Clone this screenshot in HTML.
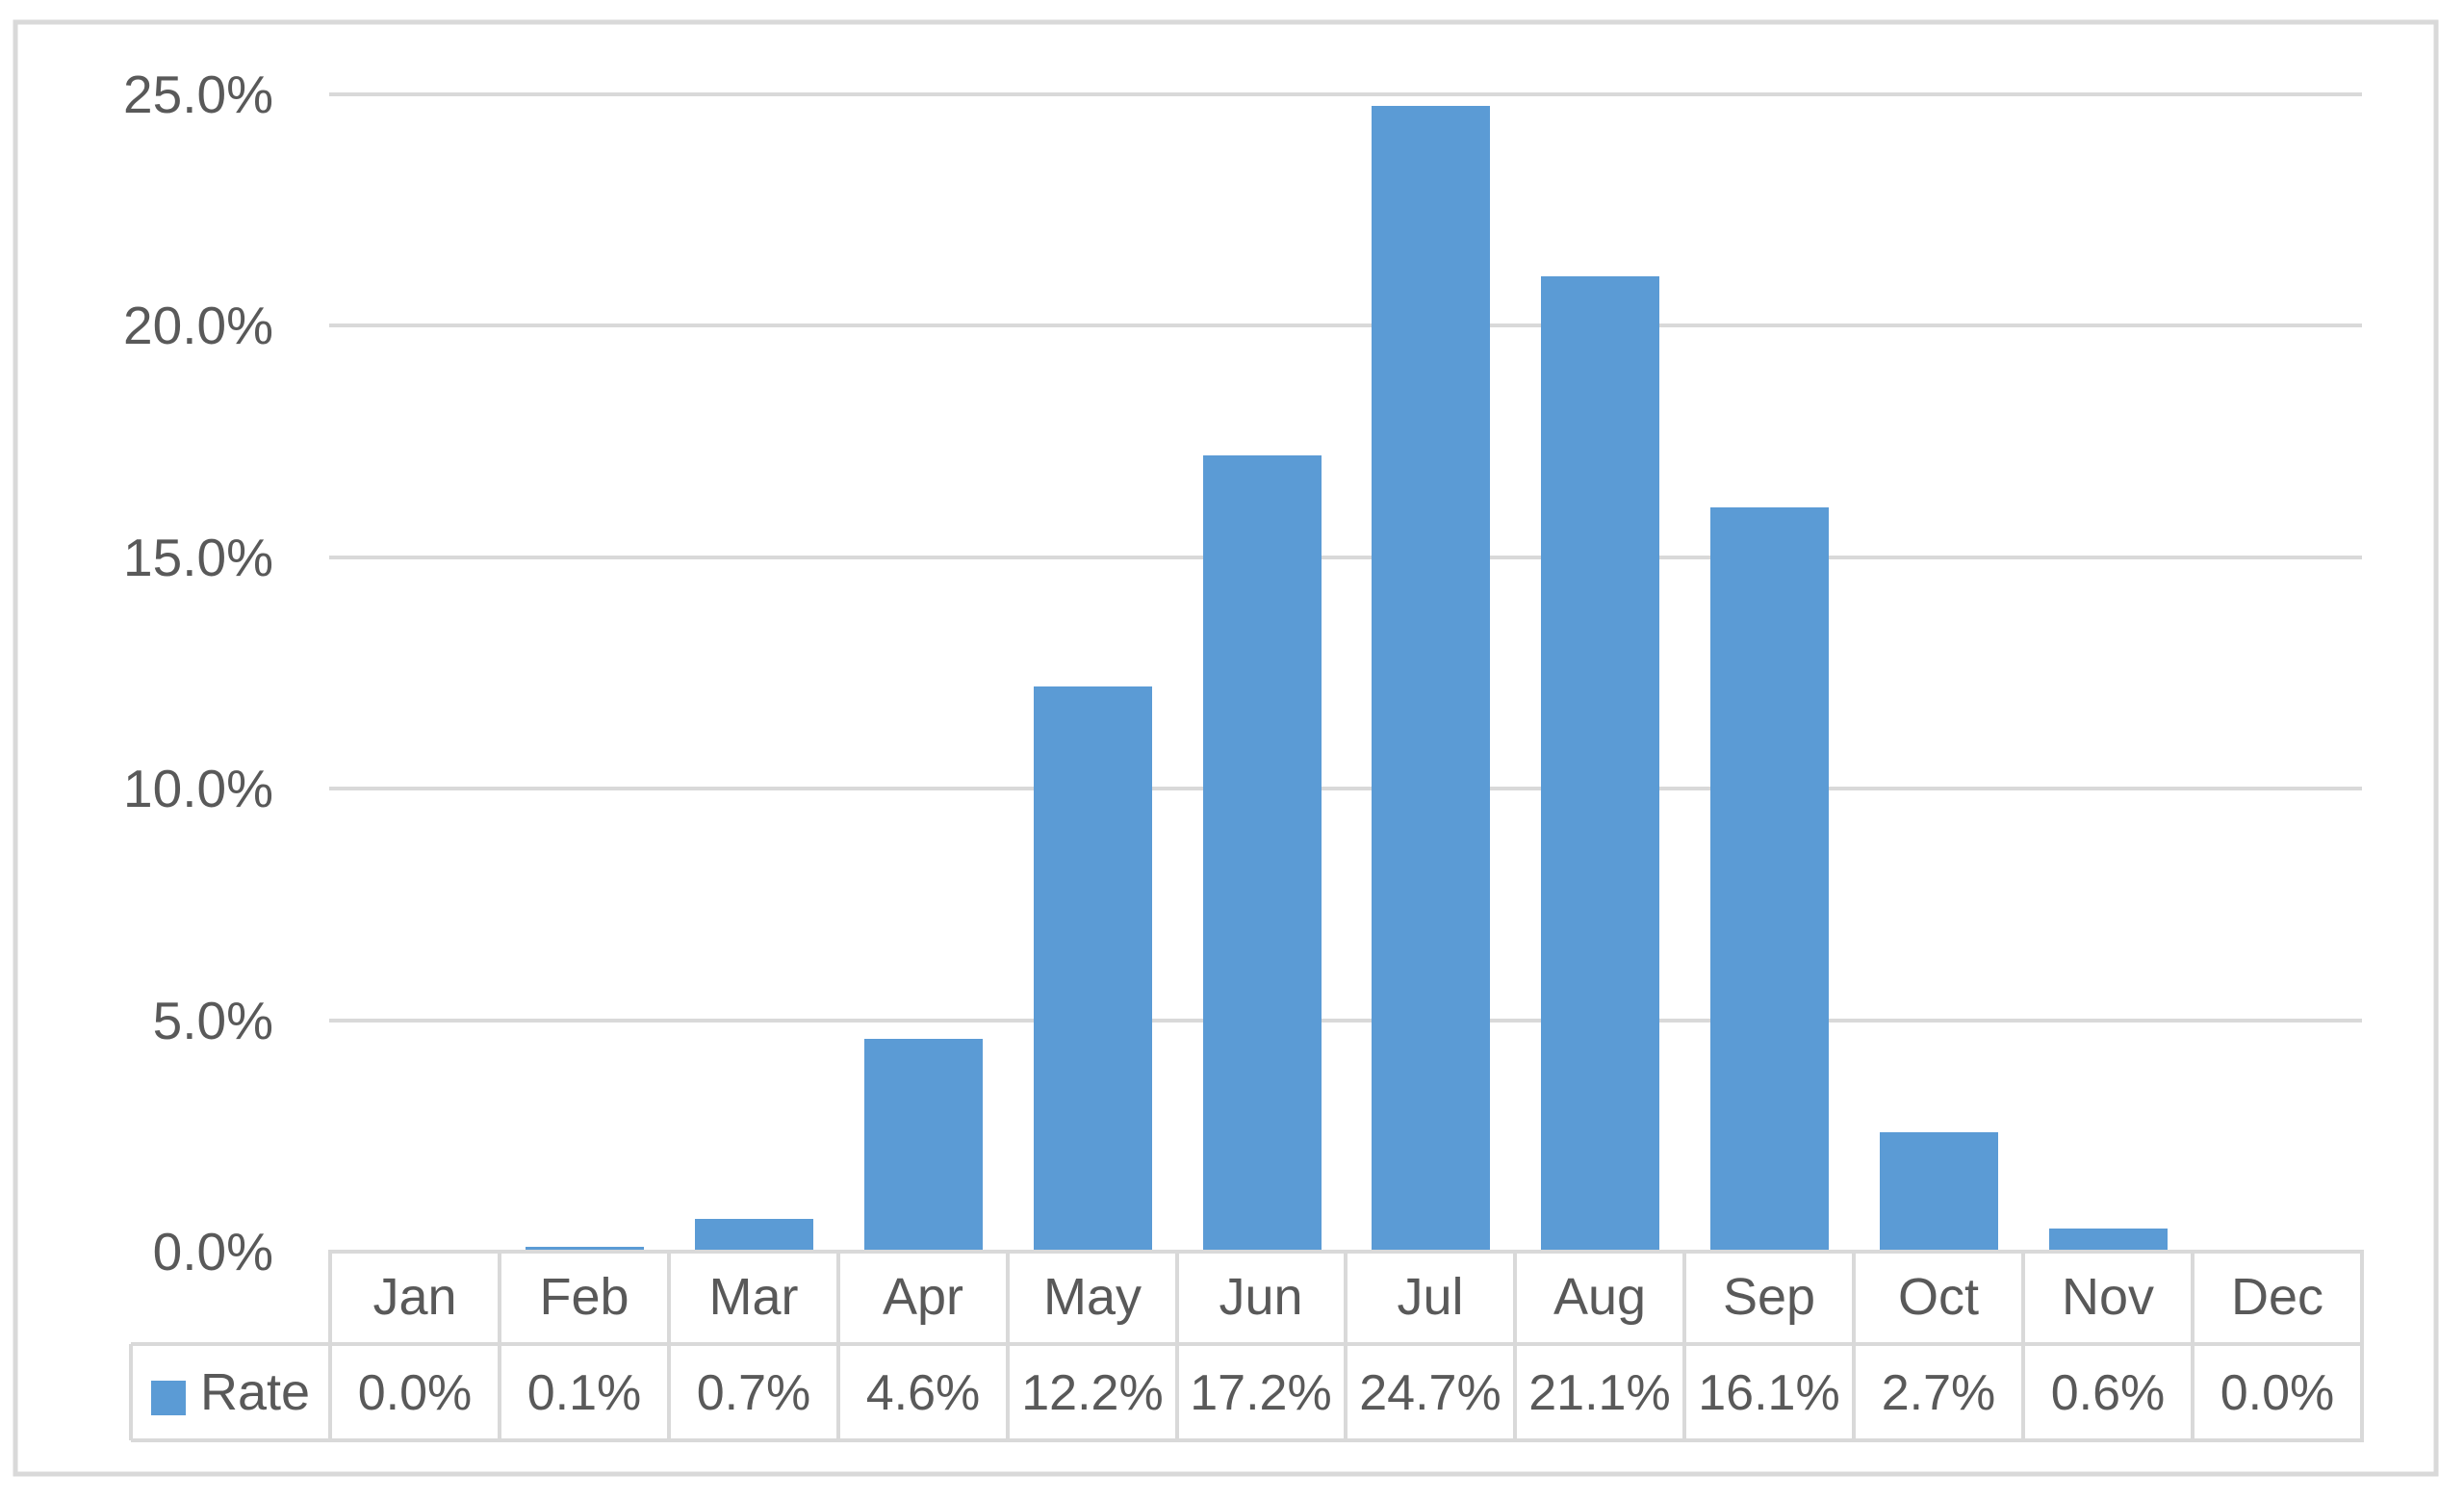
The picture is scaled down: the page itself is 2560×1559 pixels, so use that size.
<!DOCTYPE html>
<html><head><meta charset="utf-8"><style>body{margin:0;background:#fff}svg{display:block}</style></head>
<body>
<svg width="2560" height="1559" viewBox="0 0 2560 1559" xmlns="http://www.w3.org/2000/svg" font-family="'Liberation Sans', sans-serif" fill="#595959">
<rect x="0" y="0" width="2560" height="1559" fill="#fff"/>
<rect x="16" y="23" width="2515" height="1508" fill="none" stroke="#d9d9d9" stroke-width="5"/>
<g stroke="#d9d9d9" stroke-width="4">
<line x1="342" y1="98" x2="2454" y2="98"/>
<line x1="342" y1="338" x2="2454" y2="338"/>
<line x1="342" y1="579" x2="2454" y2="579"/>
<line x1="342" y1="819" x2="2454" y2="819"/>
<line x1="342" y1="1060" x2="2454" y2="1060"/>
</g>
<g font-size="55" text-anchor="end">
<text x="284" y="117">25.0%</text>
<text x="284" y="357">20.0%</text>
<text x="284" y="598">15.0%</text>
<text x="284" y="838">10.0%</text>
<text x="284" y="1079">5.0%</text>
<text x="284" y="1319">0.0%</text>
</g>
<g fill="#5b9bd5">
<rect x="546" y="1295" width="123" height="5"/>
<rect x="722" y="1266" width="123" height="34"/>
<rect x="898" y="1079" width="123" height="221"/>
<rect x="1074" y="713" width="123" height="587"/>
<rect x="1250" y="473" width="123" height="827"/>
<rect x="1425" y="110" width="123" height="1190"/>
<rect x="1601" y="287" width="123" height="1013"/>
<rect x="1777" y="527" width="123" height="773"/>
<rect x="1953" y="1176" width="123" height="124"/>
<rect x="2129" y="1276" width="123" height="24"/>
</g>
<g stroke="#d9d9d9" stroke-width="4" fill="none">
<line x1="341" y1="1300" x2="2456" y2="1300"/>
<line x1="136" y1="1396" x2="2456" y2="1396"/>
<line x1="136" y1="1496" x2="2456" y2="1496"/>
<line x1="136" y1="1396" x2="136" y2="1496"/>
<line x1="343" y1="1300" x2="343" y2="1496"/>
<line x1="519" y1="1300" x2="519" y2="1496"/>
<line x1="695" y1="1300" x2="695" y2="1496"/>
<line x1="871" y1="1300" x2="871" y2="1496"/>
<line x1="1047" y1="1300" x2="1047" y2="1496"/>
<line x1="1223" y1="1300" x2="1223" y2="1496"/>
<line x1="1398" y1="1300" x2="1398" y2="1496"/>
<line x1="1574" y1="1300" x2="1574" y2="1496"/>
<line x1="1750" y1="1300" x2="1750" y2="1496"/>
<line x1="1926" y1="1300" x2="1926" y2="1496"/>
<line x1="2102" y1="1300" x2="2102" y2="1496"/>
<line x1="2278" y1="1300" x2="2278" y2="1496"/>
<line x1="2454" y1="1300" x2="2454" y2="1496"/>
</g>
<g font-size="54" text-anchor="middle">
<text x="431" y="1365">Jan</text>
<text x="607" y="1365">Feb</text>
<text x="783" y="1365">Mar</text>
<text x="959" y="1365">Apr</text>
<text x="1135" y="1365">May</text>
<text x="1310" y="1365">Jun</text>
<text x="1486" y="1365">Jul</text>
<text x="1662" y="1365">Aug</text>
<text x="1838" y="1365">Sep</text>
<text x="2014" y="1365">Oct</text>
<text x="2190" y="1365">Nov</text>
<text x="2366" y="1365">Dec</text>
</g>
<g font-size="52" text-anchor="middle">
<text x="431" y="1464">0.0%</text>
<text x="607" y="1464">0.1%</text>
<text x="783" y="1464">0.7%</text>
<text x="959" y="1464">4.6%</text>
<text x="1135" y="1464">12.2%</text>
<text x="1310" y="1464">17.2%</text>
<text x="1486" y="1464">24.7%</text>
<text x="1662" y="1464">21.1%</text>
<text x="1838" y="1464">16.1%</text>
<text x="2014" y="1464">2.7%</text>
<text x="2190" y="1464">0.6%</text>
<text x="2366" y="1464">0.0%</text>
</g>
<rect x="157" y="1434" width="36" height="36" fill="#5b9bd5"/>
<text x="208" y="1464" font-size="54">Rate</text>
</svg>
</body></html>
